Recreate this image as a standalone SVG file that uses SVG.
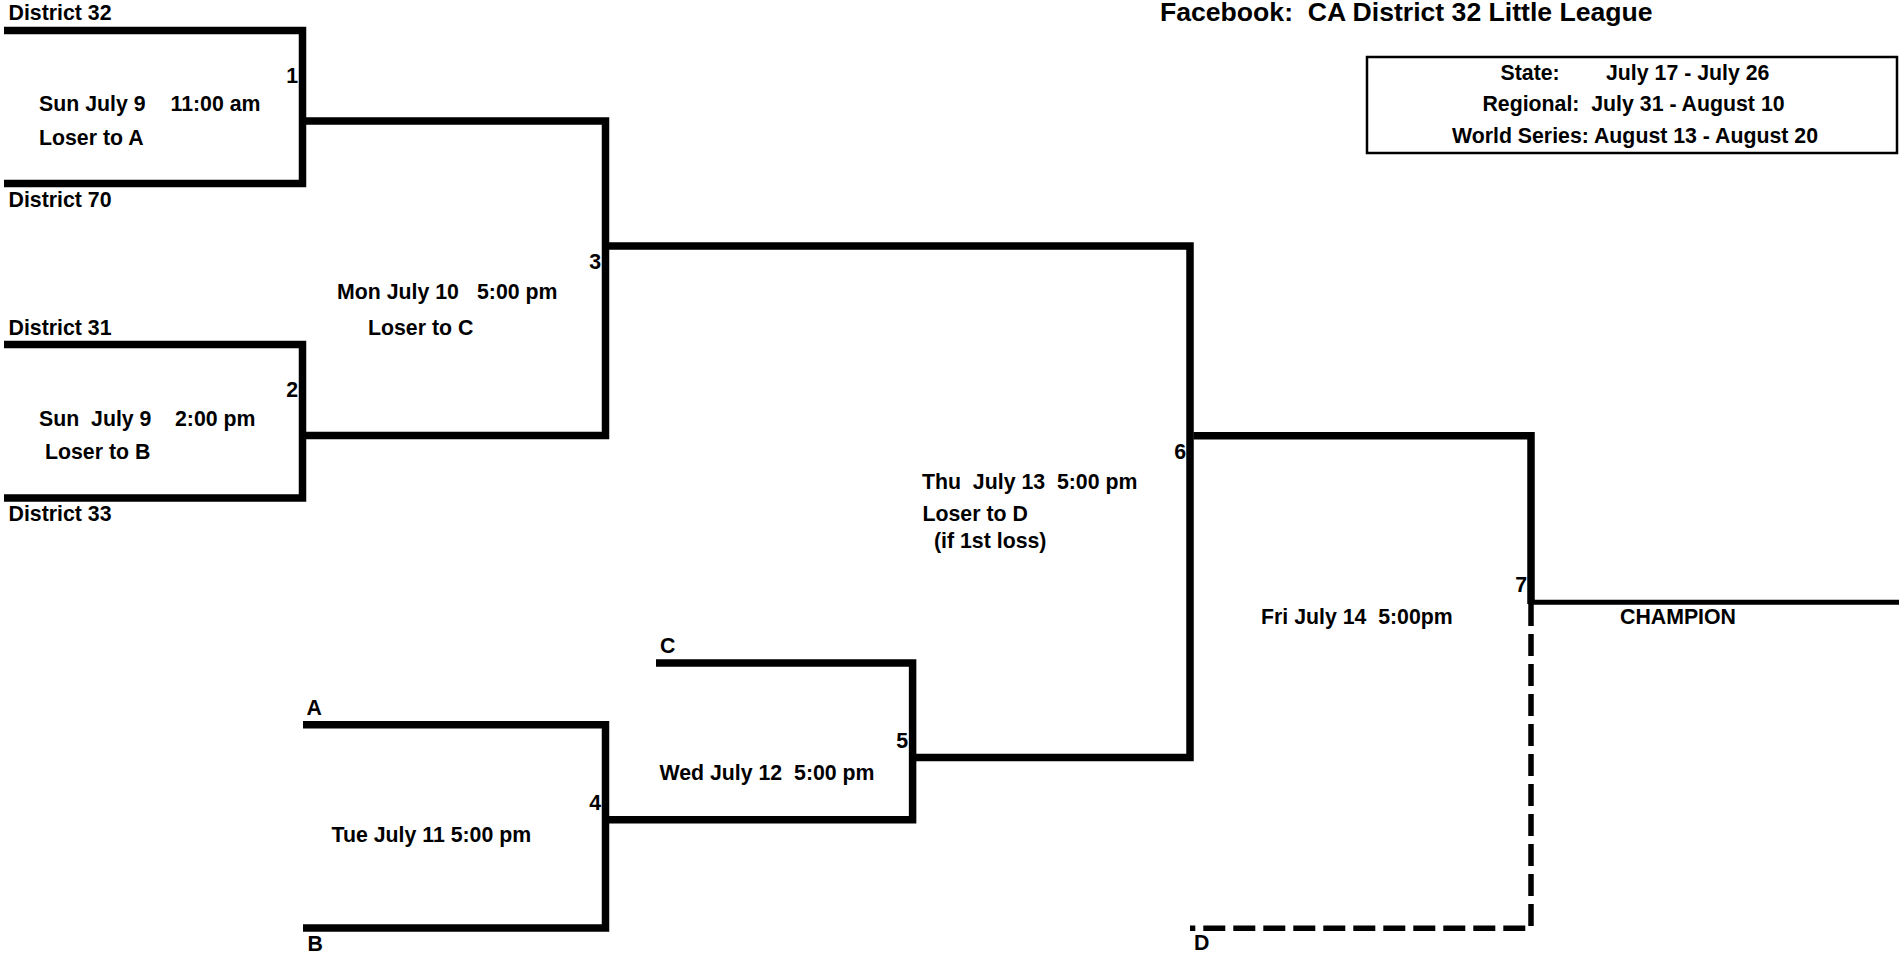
<svg xmlns="http://www.w3.org/2000/svg" width="1900" height="956" viewBox="0 0 1900 956">
<style>
text{font-family:"Liberation Sans",Arial,sans-serif;font-weight:bold;font-size:21.3px;fill:#000}
.big{font-size:26.6px}
.ln{fill:none;stroke:#000;stroke-width:7.5;stroke-linejoin:miter;stroke-linecap:butt}
.thin{fill:none;stroke:#000;stroke-width:5}
.dash{fill:none;stroke:#000;stroke-width:5.5;stroke-dasharray:22 8}
.end{text-anchor:end}
.mid{text-anchor:middle}
</style>
<rect width="1900" height="956" fill="#fff"/>
<g id="connectors">
<path class="ln" d="M4 30.5H302.5V183.5H4"/>
<path class="ln" d="M4 344.5H302.5V498H4"/>
<path class="ln" d="M306 121H605.5V435.5H306"/>
<path class="ln" d="M303 724.7H605.5V928H303"/>
<path class="ln" d="M656 663H912.6V819.7H609"/>
<path class="ln" d="M609 246H1190V757.5H916"/>
<path class="ln" d="M1193.5 435.8H1531V604"/>
<path class="thin" d="M1531 602.3H1899"/>
<path class="dash" d="M1531 604V928.3H1190"/>
</g>
<g id="header">
<text class="big" x="1160" y="21" xml:space="preserve">Facebook:  CA District 32 Little League</text>
</g>
<g id="schedule-box">
<rect x="1367" y="57" width="530" height="96" fill="#fff" stroke="#000" stroke-width="2.5"/>
<text x="1500.5" y="80">State:<tspan x="1606">July 17 - July 26</tspan></text>
<text class="mid" x="1633.5" y="111" xml:space="preserve">Regional:  July 31 - August 10</text>
<text class="mid" x="1635" y="143">World Series: August 13 - August 20</text>
</g>
<g id="team-district32"><text x="8.5" y="20">District 32</text></g>
<g id="team-district70"><text x="8.5" y="207">District 70</text></g>
<g id="team-district31"><text x="8.5" y="335">District 31</text></g>
<g id="team-district33"><text x="8.5" y="521">District 33</text></g>
<g id="game1">
<text class="end" x="298" y="82.7">1</text>
<text x="39" y="111">Sun July 9<tspan x="170.5">11:00 am</tspan></text>
<text x="39" y="145.3">Loser to A</text>
</g>
<g id="game2">
<text class="end" x="298" y="397">2</text>
<text x="39" y="426" xml:space="preserve">Sun  July 9<tspan x="175">2:00 pm</tspan></text>
<text x="45" y="458.5">Loser to B</text>
</g>
<g id="game3">
<text class="end" x="601" y="268.5">3</text>
<text x="337" y="298.5">Mon July 10<tspan x="477">5:00 pm</tspan></text>
<text x="368" y="334.5">Loser to C</text>
</g>
<g id="game4">
<text x="306.5" y="714.5">A</text>
<text x="307.5" y="951">B</text>
<text class="end" x="601" y="809.5">4</text>
<text x="331.5" y="841.5">Tue July 11 5:00 pm</text>
</g>
<g id="game5">
<text x="660" y="652.5">C</text>
<text class="end" x="908" y="747.5">5</text>
<text x="659.5" y="780" xml:space="preserve">Wed July 12  5:00 pm</text>
</g>
<g id="game6">
<text class="end" x="1186" y="458.5">6</text>
<text x="922" y="488.5" xml:space="preserve">Thu  July 13  5:00 pm</text>
<text x="922.5" y="521">Loser to D</text>
<text x="934" y="547.5">(if 1st loss)</text>
</g>
<g id="game7">
<text class="end" x="1527" y="592">7</text>
<text x="1261" y="623.5" xml:space="preserve">Fri July 14  5:00pm</text>
<text x="1194" y="950">D</text>
</g>
<g id="champion"><text x="1620" y="623.5">CHAMPION</text></g>
</svg>
